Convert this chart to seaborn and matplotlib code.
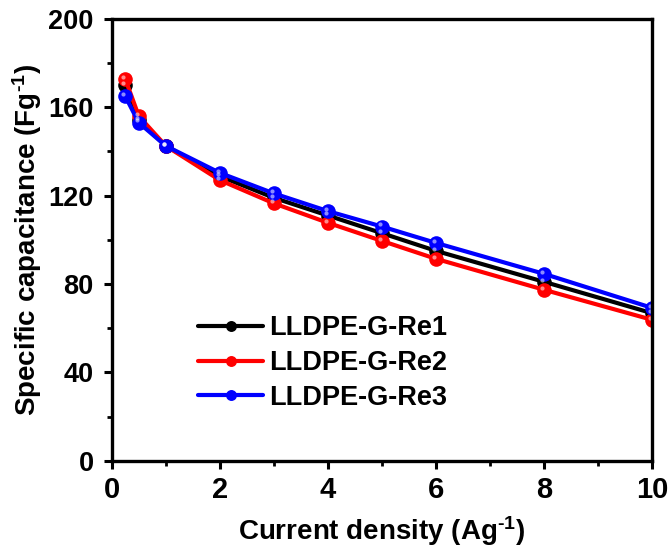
import matplotlib
matplotlib.use("Agg")
import matplotlib.pyplot as plt
from matplotlib.ticker import MultipleLocator
from matplotlib.transforms import offset_copy
import pandas as pd
import seaborn as sns

current = [0.25, 0.5, 1, 2, 3, 4, 5, 6, 8, 10]
re1 = [170, 154, 142.5, 128.8, 119, 111, 103, 95, 81, 66.8]
re2 = [172.8, 156, 142.5, 127, 116.5, 107.7, 99.5, 91.4, 77.4, 63.8]
re3 = [165, 153, 142.5, 130.3, 121, 113, 106, 98.6, 84.6, 69.2]
names = ["LLDPE-G-Re1", "LLDPE-G-Re2", "LLDPE-G-Re3"]
colors = ["black", "red", "blue"]

df = pd.DataFrame({
    "x": current * 3,
    "y": re1 + re2 + re3,
    "sample": [n for n in names for _ in current],
})

sns.set_style("ticks")
plt.rcParams["font.family"] = ["Liberation Sans", "DejaVu Sans"]
plt.rcParams["font.weight"] = "bold"
plt.rcParams["text.color"] = "black"
plt.rcParams["axes.labelcolor"] = "black"
plt.rcParams["xtick.color"] = "black"
plt.rcParams["ytick.color"] = "black"
plt.rcParams["mathtext.fontset"] = "custom"
plt.rcParams["mathtext.rm"] = "Liberation Sans:bold"
plt.rcParams["mathtext.bf"] = "Liberation Sans:bold"
plt.rcParams["mathtext.default"] = "rm"

fig = plt.figure(figsize=(6.69, 5.52), dpi=100)
ax = fig.add_axes([0.167, 0.165, 0.808, 0.801])
sns.lineplot(data=df, x="x", y="y", hue="sample", palette=colors,
             marker="o", markersize=10.5, linewidth=3, markeredgewidth=0,
             ax=ax, sort=False)

# little glossy highlight on each marker
shine = offset_copy(ax.transData, fig=fig, x=-1.6, y=1.6, units="points")
for vals in (re1, re2, re3):
    ax.plot(current, vals, "o", ms=3, color="white", alpha=0.55,
            markeredgewidth=0, transform=shine)

ax.set_xlim(0, 10)
ax.set_ylim(0, 200)
ax.set_xticks([0, 2, 4, 6, 8, 10])
ax.set_yticks([0, 40, 80, 120, 160, 200])
ax.xaxis.set_minor_locator(MultipleLocator(1))
ax.yaxis.set_minor_locator(MultipleLocator(20))
ax.set_xlabel("Current density (Ag$^{\\text{-}1}$)", fontsize=20, fontweight="bold", labelpad=7)
ax.set_ylabel("Specific capacitance (Fg$^{\\text{-}1}$)", fontsize=20, fontweight="bold", labelpad=3)
ax.tick_params(which="major", width=2.2, length=6, direction="out", color="black")
ax.tick_params(axis="x", which="major", labelsize=21, pad=5)
ax.tick_params(axis="y", which="major", labelsize=19.5, pad=7)
ax.tick_params(which="minor", width=2, length=3.5, direction="out", color="black")
for lab in ax.get_xticklabels() + ax.get_yticklabels():
    lab.set_fontweight("bold")
for s in ax.spines.values():
    s.set_linewidth(2.4)
    s.set_color("black")
    s.set_visible(True)

leg = ax.legend(loc="upper left", bbox_to_anchor=(0.115, 0.385), frameon=False,
                fontsize=19.5, handlelength=2.4, handletextpad=0.22, labelspacing=0.33,
                markerscale=0.75)
for t in leg.get_texts():
    t.set_fontweight("bold")

fig.savefig("out.png", dpi=100)
